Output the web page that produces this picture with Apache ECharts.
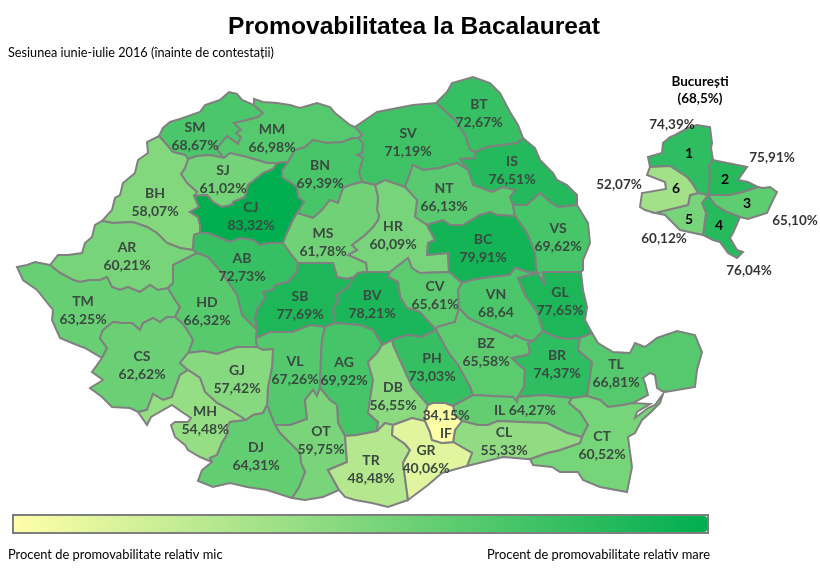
<!DOCTYPE html>
<html lang="ro">
<head>
<meta charset="utf-8">
<title>Promovabilitatea la Bacalaureat</title>
<script src="https://cdn.jsdelivr.net/npm/echarts@6/dist/echarts.min.js"></script>
<style>
    html, body { margin: 0; padding: 0; background: #fff; }
    #chart { width: 820px; height: 579px; }
</style>
</head>
<body>
<div id="chart"></div>
<script>
// valori
const countyCodes = ['BT','SV','SM','MM','SJ','BN','IS','NT','BH','CJ','HR','VS','BC','MS','AR','AB','TM','HD','CV','SB','BV',
    'VN','GL','BZ','BR','PH','TL','VL','AG','CS','GJ','MH','DB','IL','CT','CL','OT','DJ','TR','GR','IF'];
const countyValues = [72.67,71.19,68.67,66.98,61.02,69.39,76.51,66.13,58.07,83.32,60.09,69.62,79.91,61.78,60.21,72.73,63.25,66.32,65.61,77.69,78.21,
    68.64,77.65,65.58,74.37,73.03,66.81,67.26,69.92,62.62,57.42,54.48,56.55,64.27,60.52,55.33,59.75,64.31,48.48,40.06,34.15];
const sectorNames = ['1','2','3','4','5','6'];
const sectorValues = [74.39,75.91,65.10,76.04,60.12,52.07];

// puncte de ancorare pentru etichete
const countyLabelPoints = {
    BT:[479,113],SV:[408,142],SM:[195,136],MM:[272,138],SJ:[223,179],BN:[320,174],IS:[512,170],NT:[444,197],BH:[155,202],CJ:[251,216],
    HR:[393,235],VS:[558,237],BC:[483,248],MS:[323,242],AR:[127,256],AB:[242,267],TM:[83,310],HD:[207,311],CV:[435,295],SB:[300,305],
    BV:[372,304],VN:[496,303],GL:[560,301],BZ:[486,352],BR:[557,364],PH:[432,367],TL:[616,373],VL:[295,370],AG:[344,371],CS:[142,365],
    GJ:[237,379],MH:[205,420],DB:[393,396],IL:[525,410],CT:[602,445],CL:[504,441],OT:[321,440],DJ:[256,456],TR:[371,469],GR:[426,459],IF:[446,424]
};
const sectorLabelPoints = [[689,153],[725,179],[747,203],[719,225],[689,219],[676,188]];
const sectorValuePoints = [[672,125],[772,158],[795,221],[749,271],[664,239],[619,185]];

// granitele judetelor, fiecare trasata o singura data: [judet, vecin (null = contur exterior), puncte]
const countyBorders = [
    ['SM',null,'159,136 163,128 170,122 180,119 200,112 205,105 220,100 229,92 237,94 242,100 254,105'],
    ['SM','BH','159,136 167,145 173,152 185,155 188,159'],
    ['SM','SJ','188,159 197,156 210,155 224,158'],
    ['SM','MM','254,105 263,113 258,117 247,120 234,123 241,130 236,133 241,137 238,144 227,136 222,142 217,149 224,158'],
    ['MM',null,'254,105 254,99 263,102 277,103 290,105 300,108 317,103 330,107 335,113 350,125 355,127'],
    ['MM','SJ','224,158 230,153 247,157 267,163 277,163'],
    ['MM','CJ','277,163 288,162'],
    ['MM','BN','288,162 295,150 305,147 313,140 327,143 342,142 353,138 358,138'],
    ['MM','SV','355,127 362,135 358,138'],
    ['SV',null,'355,127 368,118 377,112 413,105 436,103'],
    ['SV','BT','436,103 455,120 465,135 470,150 475,152'],
    ['BT',null,'436,103 447,92 452,83 473,77 490,83 500,93 510,112 518,125 523,138'],
    ['BT','IS','475,152 487,147 503,145 517,143 523,138'],
    ['SV','IS','468,170 460,159 475,158 475,152'],
    ['IS',null,'523,138 535,148 540,160 553,173 557,180 567,185 577,195 577,205'],
    ['IS','VS','513,205 527,205 540,193 550,202 558,207 577,205'],
    ['IS','NT','513,205 510,197 515,190 503,187 492,192 473,185 468,170'],
    ['SV','NT','468,170 457,163 440,168 423,170 413,165 405,187'],
    ['SV','BN','358,138 363,143 362,153 357,155 363,158 359,172 362,182'],
    ['SV','MS','362,182 375,185'],
    ['SV','HR','375,185 385,180 405,187'],
    ['HR','NT','405,187 417,200 415,217 427,225'],
    ['NT','BC','427,225 443,220 450,225 463,225 480,215 490,212 497,215 515,216'],
    ['NT','VS','513,205 515,216'],
    ['VS','BC','515,216 527,233 535,253 536,268 537,273'],
    ['VS',null,'577,205 588,223 590,243 583,260 583,270 581,272'],
    ['VS','GL','537,273 544,283 543,272 581,272'],
    ['GL',null,'581,272 583,290 587,307 585,320 592,333'],
    ['BC','HR','427,225 435,240 428,243 427,255 448,253 449,272'],
    ['BC','CV','449,272 462,283'],
    ['BC','VN','462,283 472,280 490,277 510,275 515,268 528,272 537,273'],
    ['VN','GL','537,273 518,278 525,295 537,312 543,331'],
    ['VN','CV','462,283 458,290 459,308'],
    ['VN','BZ','459,308 468,318 483,325 500,332 512,338 515,335 525,340 533,341'],
    ['VN','BR','533,341 543,331'],
    ['BR','GL','543,331 555,337 567,339 580,338'],
    ['GL','TL','580,338 592,333'],
    ['TL',null,'592,333 598,343 613,352 630,353 635,343 645,347 657,338 677,331 695,335 702,352 697,370 695,387 677,390 665,392 662,391 657,388 655,375 650,373 643,378 645,383 648,395 633,403'],
    ['BR','TL','580,338 578,350 592,362 590,377 587,396'],
    ['TL','CT','587,396 600,400 608,407 623,405 633,403'],
    ['BR','CT','572,398 587,396'],
    ['BR','IL','518,397 543,395 572,398'],
    ['BR','BZ','533,341 528,343 530,352 527,355 512,358 517,363 525,370 524,387 518,397'],
    ['BZ','IL','473,395 492,396 513,397 517,402 518,397'],
    ['BZ','CV','459,308 455,322 437,327 436,330'],
    ['BZ','PH','436,330 448,352 458,365 470,387 473,395'],
    ['BV','CV','390,272 388,277 398,282 400,297 407,308 420,312 436,330'],
    ['HR','CV','390,272 408,258 412,268 420,273 449,272'],
    ['HR','BV','367,272 390,272'],
    ['MS','HR','375,185 378,197 377,210 379,215 378,220 373,227 365,235 352,245 357,250 348,255 366,263 367,272'],
    ['MS','BV','354,277 358,273 367,272'],
    ['MS','SB','298,263 317,263 333,263 337,277 347,279 354,277'],
    ['MS','AB','283,243 290,253 298,263'],
    ['MS','CJ','297,213 293,220 287,233 283,243'],
    ['MS','BN','297,213 313,218 322,210 330,200 338,203 343,188 350,185 362,182'],
    ['BN','CJ','288,162 282,170 282,177 297,187 298,197 304,202 297,213'],
    ['SJ','CJ','194,196 207,195 213,202 222,207 232,205 233,202 245,197 248,185 263,173 273,169 277,163'],
    ['SJ','BH','188,159 185,168 181,174 187,183 197,192 194,196'],
    ['BH','CJ','194,196 199,207 190,212 198,217 200,225 200,233'],
    ['CJ','AB','283,243 270,243 260,245 253,240 240,238 230,242 220,238 207,233 200,233'],
    ['BH','AB','200,233 194,235 193,250'],
    ['BH',null,'159,136 147,142 148,153 138,160 135,173 123,183 120,195 115,198 112,210 102,221'],
    ['BH','AR','102,221 113,223 133,222 147,227 157,233 167,243 180,248 193,250'],
    ['AR','AB','193,250 197,253'],
    ['AR',null,'102,221 95,225 92,237 85,243 82,253 68,255 58,255 50,265'],
    ['AR','TM','50,265 60,273 73,280 80,282 90,280 100,280 107,277 112,287 120,290 128,287 140,292 150,285 158,290 168,288'],
    ['AR','HD','197,253 173,265 173,283 168,288'],
    ['AB','HD','197,253 208,257 222,273 237,295 242,315 257,330'],
    ['AB','SB','298,263 297,272 288,282 275,285 273,290 263,292 265,298 257,310 255,318 257,330'],
    ['HD','SB','257,330 256,338'],
    ['HD','VL','256,338 257,347'],
    ['SB','VL','256,338 270,332 293,332 310,325 325,327'],
    ['AG','SB','325,327 335,323'],
    ['SB','BV','354,277 348,287 337,295 338,300 333,310 335,323'],
    ['AG','BV','335,323 360,325 373,330 382,345'],
    ['BV','DB','382,345 392,340'],
    ['BV','PH','392,340 407,335 422,337 436,330'],
    ['TM','HD','168,288 175,300 180,307 175,317'],
    ['TM',null,'50,265 35,262 27,265 17,267 23,280 37,290 45,300 53,310 52,320 60,338 77,345 85,348 102,358'],
    ['TM','CS','175,317 167,317 160,322 153,318 143,323 140,330 132,323 122,323 113,322 103,330 100,338 107,348 102,358'],
    ['CS','HD','175,317 182,323 187,330 193,340 188,353'],
    ['CS','GJ','188,353 180,363 188,370'],
    ['CS','MH','188,370 180,375 172,397 163,400 153,394 147,410 138,412'],
    ['CS',null,'102,358 92,372 103,380 90,388 102,397 112,407 130,408 138,412'],
    ['MH',null,'138,412 147,425 151,417 172,405 182,412 191,418 188,422 175,422 171,425 175,437 185,445 188,450 200,457 212,462'],
    ['MH','DJ','212,462 210,458 217,455 222,443 228,433 227,427 230,422 246,420'],
    ['MH','GJ','188,370 200,378 205,392 217,403 230,410 246,420'],
    ['GJ','DJ','246,420 253,415 263,413 267,405'],
    ['GJ','HD','188,353 203,351 217,354 237,347 257,347'],
    ['GJ','VL','257,347 263,350 273,349 272,367 268,387 267,405'],
    ['VL','DJ','267,405 275,425'],
    ['VL','OT','275,425 290,425 307,419 305,400 313,390 317,396 320,388'],
    ['VL','AG','325,327 322,340 321,357 320,388'],
    ['AG','OT','320,388 330,400 337,405 338,423 345,436'],
    ['AG','TR','345,436 357,435 377,431'],
    ['AG','DB','382,345 377,353 368,362 373,380 368,413 378,422 377,431'],
    ['OT','DJ','275,425 280,433 300,453 301,463 305,472 299,487 292,498'],
    ['OT','TR','345,436 347,462 328,470 339,490'],
    ['OT',null,'339,490 323,497 305,500 292,498'],
    ['DJ',null,'292,498 267,490 247,487 230,483 213,487 198,481 202,470 212,462'],
    ['TR',null,'339,490 345,497 355,500 372,503 388,507 408,500'],
    ['TR','GR','393,425 392,435 405,444 410,450 403,463 408,500'],
    ['TR','DB','377,431 385,423 393,425'],
    ['DB','GR','393,425 412,418 425,421'],
    ['DB','IF','425,421 425,413 428,405'],
    ['DB','PH','392,340 393,345 403,367 412,387 428,405'],
    ['PH','IF','428,405 433,403 445,403 453,406'],
    ['IF','IL','453,406 455,415 462,421'],
    ['IF','CL','462,421 455,430 453,442'],
    ['IF','GR','453,442 442,443 432,440 430,432 425,421'],
    ['PH','IL','453,406 473,395'],
    ['IL','CL','462,421 478,425 488,425 498,421 520,422 547,423 567,433 582,437'],
    ['IL','CT','572,398 569,403 580,412 588,425 582,437'],
    ['CL','CT','582,437 580,443 560,450 547,453 530,459'],
    ['CL',null,'467,466 483,462 503,457 527,459 530,459'],
    ['GR','CL','467,466 472,453 453,442'],
    ['GR',null,'408,500 428,485 442,473 467,466'],
    ['CT',null,'633,403 650,404 637,412 635,418 648,408 655,405 663,394 660,403 651,412 642,420 635,433 628,437 632,467 627,492 600,487 583,480 578,472 560,472 552,467 533,465 530,459']
];

// sectoarele Bucurestiului
const sectorBorders = [
    ['1',null,'650,167 648,157 662,153 663,143 670,137 675,135 688,128 697,125 710,127 712,143 711,148 713,160'],
    ['1','2','713,160 709,165 710,177 708,195'],
    ['1','6','650,167 670,166 687,177 692,183 698,193'],
    ['1','5','698,193 708,195'],
    ['6','5','698,193 690,195 688,205 655,213'],
    ['5','4','708,195 702,203 706,213 703,235'],
    ['5',null,'655,213 665,215 673,223 680,230 703,235'],
    ['4','3','708,195 715,205 727,212 740,217'],
    ['4',null,'740,217 733,233 730,238 737,250 743,252 737,258 728,253 720,242 713,240 703,235'],
    ['2','3','708,195 730,195 743,192 758,187'],
    ['2',null,'713,160 747,167 738,180 748,182 758,187'],
    ['3',null,'758,187 763,188 770,187 777,192 772,202 767,213 748,219 740,217'],
    ['6',null,'650,167 647,175 665,182 666,189 642,193 640,207 645,210 655,213']
];

function citestePuncte(text) {
    // y e inversat pentru ca harta lucreaza cu latitudini
    return text.split(' ').map(p => {
        const [x, y] = p.split(',').map(Number);
        return [x, -y];
    });
}

function acelasiPunct(a, b) {
    return a[0] === b[0] && a[1] === b[1];
}

// leaga granitele unei regiuni intr-un singur inel
function construiesteInel(cod, borders) {
    const rest = borders.filter(b => b[0] === cod || b[1] === cod).map(b => citestePuncte(b[2]));
    const inel = rest.shift();
    while (rest.length) {
        const capat = inel[inel.length - 1];
        const idx = rest.findIndex(a => acelasiPunct(a[0], capat) || acelasiPunct(a[a.length - 1], capat));
        if (idx < 0) throw new Error('granita nu se inchide: ' + cod);
        const arc = rest.splice(idx, 1)[0];
        if (!acelasiPunct(arc[0], capat)) arc.reverse();
        inel.push(...arc.slice(1));
    }
    return inel;
}

function construiesteRegiune(cod, borders, punct) {
    return {
        type: 'Feature',
        properties: { name: cod, cp: [punct[0], -punct[1]] },
        geometry: { type: 'Polygon', coordinates: [construiesteInel(cod, borders)] }
    };
}

const features = [
    ...countyCodes.map(c => construiesteRegiune(c, countyBorders, countyLabelPoints[c])),
    ...sectorNames.map((s, i) => construiesteRegiune(s, sectorBorders, sectorLabelPoints[i]))
];
echarts.registerMap('romania', { type: 'FeatureCollection', features: features });

function formatProcent(v) {
    return v.toFixed(2).replace('.', ',') + '%';
}

function etichetaJudet(p) {
    const valoare = p.value;
    if (p.name === 'VN') return 'VN\n' + formatProcent(valoare).replace('%', '');
    if (p.name === 'IL') return 'IL ' + formatProcent(valoare);
    if (p.name === 'IF') return formatProcent(valoare) + '\nIF';
    return p.name + '\n' + formatProcent(valoare);
}

const toateValorile = countyValues.concat(sectorValues);
const zona = { left: 0, top: 0, width: 820, height: 579, aspectScale: 1, boundingCoords: [[0, 0], [820, -579]], roam: false, silent: true };

const option = {
    backgroundColor: '#fff',
    animation: false,
    title: [
        { text: 'Promovabilitatea la Bacalaureat', left: 414, top: 15, padding: 0, textAlign: 'center',
            textStyle: { fontFamily: 'Liberation Sans', fontWeight: 'bold', fontSize: 24.6, color: '#000' } },
        { text: 'Sesiunea iunie-iulie 2016 (înainte de contestații)', left: 8, top: 46, padding: 0,
            textStyle: { fontFamily: 'Lato', fontWeight: 'normal', fontSize: 12.7, color: '#000' } },
        { text: 'București', left: 700, top: 75, padding: 0, textAlign: 'center',
            textStyle: { fontFamily: 'Lato', fontWeight: 'bold', fontSize: 13.5, color: '#000' } },
        { text: '(68,5%)', left: 700, top: 92, padding: 0, textAlign: 'center',
            textStyle: { fontFamily: 'Lato', fontWeight: 'bold', fontSize: 13.5, color: '#000' } },
        { text: 'Procent de promovabilitate relativ mic', left: 8, top: 548, padding: 0,
            textStyle: { fontFamily: 'Lato', fontWeight: 'normal', fontSize: 12.9, color: '#000' } },
        { text: 'Procent de promovabilitate relativ mare', left: 487, top: 548, padding: 0,
            textStyle: { fontFamily: 'Lato', fontWeight: 'normal', fontSize: 12.9, color: '#000' } }
    ],
    visualMap: {
        type: 'continuous',
        seriesIndex: 0,
        min: Math.min(...toateValorile),
        max: Math.max(...toateValorile),
        orient: 'horizontal',
        left: 12,
        top: 514,
        itemWidth: 16,
        itemHeight: 693,
        padding: 1,
        borderColor: '#7f7f7f',
        borderWidth: 2,
        calculable: false,
        hoverLink: false,
        text: null,
        inRange: { color: ['#ffffa8', '#00ae50'] }
    },
    // geo invizibil, doar ca sistem de coordonate pentru procentele sectoarelor
    geo: Object.assign({}, zona, {
        map: 'romania',
        z: 0,
        label: { show: false },
        itemStyle: { areaColor: 'transparent', borderWidth: 0 }
    }),
    series: [
        Object.assign({}, zona, {
            type: 'map',
            map: 'romania',
            z: 2,
            selectedMode: false,
            itemStyle: { borderColor: '#808080', borderWidth: 2 },
            label: {
                show: true,
                formatter: etichetaJudet,
                fontFamily: 'Lato',
                fontWeight: 'bold',
                fontSize: 14,
                lineHeight: 18,
                color: '#3a4a40'
            },
            data: [
                ...countyCodes.map((c, i) => ({ name: c, value: countyValues[i] })),
                ...sectorNames.map((s, i) => ({ name: s, value: sectorValues[i], label: { formatter: s, color: '#000' } }))
            ]
        }),
        {
            type: 'scatter',
            coordinateSystem: 'geo',
            geoIndex: 0,
            z: 3,
            silent: true,
            symbolSize: 0,
            label: {
                show: true,
                position: 'inside',
                formatter: p => formatProcent(p.value[2]),
                fontFamily: 'Lato',
                fontWeight: 'bold',
                fontSize: 13.5,
                color: '#000'
            },
            data: sectorValues.map((v, i) => [sectorValuePoints[i][0], -sectorValuePoints[i][1], v])
        }
    ]
};

const chart = echarts.init(document.getElementById('chart'), null, { renderer: 'canvas' });
chart.setOption(option);
</script>
</body>
</html>
